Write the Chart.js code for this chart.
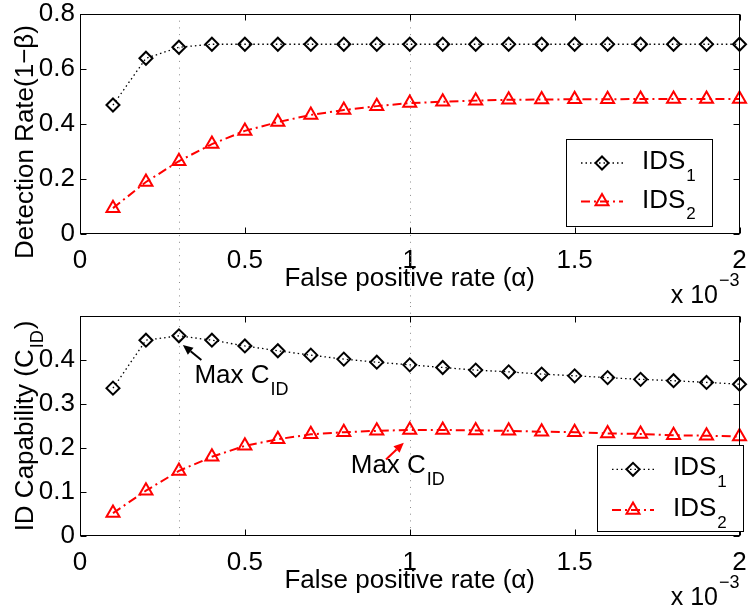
<!DOCTYPE html>
<html>
<head>
<meta charset="utf-8">
<script src="https://cdn.jsdelivr.net/npm/chart.js@4/dist/chart.umd.min.js"></script>
<style>
  html, body { margin: 0; padding: 0; background: #fff; }
  #wrap { position: relative; width: 749px; height: 612px; background: #fff; }
  .pane { position: absolute; left: 0; width: 749px; height: 306px; }
</style>
</head>
<body>
<div id="wrap">
  <div class="pane" style="top:0"><canvas id="c1" width="749" height="306"></canvas></div>
  <div class="pane" style="top:306px"><canvas id="c2" width="749" height="306"></canvas></div>
</div>
<script>
const FONT = '"Liberation Sans", Arial, Helvetica, sans-serif';

// ---- data ----
const xValues = [0.1, 0.2, 0.3, 0.4, 0.5, 0.6, 0.7, 0.8, 0.9, 1.0,
                 1.1, 1.2, 1.3, 1.4, 1.5, 1.6, 1.7, 1.8, 1.9, 2.0];
const xTicks = [0, 0.5, 1, 1.5, 2];
const detTicks = [0, 0.2, 0.4, 0.6, 0.8];
const capTicks = [0, 0.1, 0.2, 0.3, 0.4];
const refLinesX = [0.3, 1.0];

const detIDS1 = [0.469, 0.639, 0.679, 0.690, 0.690, 0.690, 0.690, 0.690, 0.690, 0.690,
                 0.690, 0.690, 0.690, 0.690, 0.690, 0.690, 0.690, 0.690, 0.690, 0.690];
const detIDS2 = [0.094, 0.189, 0.265, 0.327, 0.375, 0.407, 0.433, 0.451, 0.465, 0.476,
                 0.481, 0.485, 0.488, 0.489, 0.490, 0.490, 0.491, 0.491, 0.491, 0.491];
const capIDS1 = [0.336, 0.445, 0.455, 0.445, 0.432, 0.421, 0.411, 0.402, 0.395, 0.389,
                 0.383, 0.377, 0.373, 0.368, 0.364, 0.360, 0.356, 0.353, 0.349, 0.345];
const capIDS2 = [0.052, 0.103, 0.148, 0.180, 0.205, 0.220, 0.231, 0.236, 0.239, 0.241,
                 0.241, 0.240, 0.239, 0.237, 0.236, 0.233, 0.232, 0.229, 0.228, 0.226];

const seriesNames = ['IDS', 'IDS'];
const seriesSubs = ['1', '2'];

function pts(ys) { return xValues.map((x, i) => ({ x: x, y: ys[i] })); }

function makeDatasets(y1, y2) {
  return [
    { label: 'IDS1', data: pts(y1), borderColor: '#000', borderWidth: 1.3, borderDash: [1.5, 3],
      pointStyle: 'rectRot', pointRadius: 6.5, pointBorderWidth: 2, pointBorderColor: '#000',
      pointBackgroundColor: 'rgba(0,0,0,0)', fill: false, tension: 0, clip: false },
    { label: 'IDS2', data: pts(y2), borderColor: '#ff0000', borderWidth: 2, borderDash: [9, 4, 2, 4],
      pointStyle: 'triangle', pointRadius: 7.5, pointBorderWidth: 2, pointBorderColor: '#ff0000',
      pointBackgroundColor: 'rgba(0,0,0,0)', fill: false, tension: 0, clip: false }
  ];
}

function drawParts(ctx, x, y, parts, color) {
  ctx.fillStyle = color;
  ctx.textAlign = 'left';
  ctx.textBaseline = 'alphabetic';
  let cx = x;
  for (const p of parts) {
    ctx.font = p.size + 'px ' + FONT;
    ctx.fillText(p.t, cx, y + (p.dy || 0));
    cx += ctx.measureText(p.t).width + (p.gap || 0);
  }
  return cx;
}
function partsWidth(ctx, parts) {
  let w = 0;
  for (const p of parts) { ctx.font = p.size + 'px ' + FONT; w += ctx.measureText(p.t).width + (p.gap || 0); }
  return w;
}

const matlabPlugin = {
  id: 'matlab',
  beforeDatasetsDraw(chart, args, opts) {
    const ctx = chart.ctx, xs = chart.scales.x, a = chart.chartArea;
    ctx.save();
    ctx.strokeStyle = '#8c8c8c';
    ctx.lineWidth = 1;
    ctx.setLineDash([1, 5.7]);
    for (const v of refLinesX) {
      const px = Math.round(xs.getPixelForValue(v)) + 0.5;
      ctx.beginPath();
      ctx.moveTo(px, opts.refTop === 'area' ? a.top : 0);
      ctx.lineTo(px, opts.refBottom === 'area' ? a.bottom : chart.height);
      ctx.stroke();
    }
    ctx.restore();
  },
  afterDraw(chart, args, opts) {
    const ctx = chart.ctx, a = chart.chartArea, xs = chart.scales.x, ys = chart.scales.y;
    ctx.save();
    // frame
    ctx.setLineDash([]);
    ctx.strokeStyle = '#000';
    ctx.lineWidth = 1;
    const L = Math.round(a.left) + 0.5, R = Math.round(a.right) - 0.5;
    const T = Math.round(a.top) + 0.5, B = Math.round(a.bottom) - 0.5;
    ctx.strokeRect(L, T, R - L, B - T);
    const tl = 6;
    ctx.beginPath();
    for (const t of xs.ticks) {
      const px = Math.round(xs.getPixelForValue(t.value)) + 0.5;
      ctx.moveTo(px, B); ctx.lineTo(px, B - tl);
      ctx.moveTo(px, T); ctx.lineTo(px, T + tl);
    }
    for (const t of ys.ticks) {
      const py = Math.round(ys.getPixelForValue(t.value)) + 0.5;
      ctx.moveTo(L, py); ctx.lineTo(L + tl, py);
      ctx.moveTo(R, py); ctx.lineTo(R - tl, py);
    }
    ctx.stroke();

    // x title
    ctx.font = '26px ' + FONT;
    ctx.fillStyle = '#000';
    ctx.textAlign = 'center';
    ctx.textBaseline = 'alphabetic';
    ctx.fillText('False positive rate (\u03B1)', (a.left + a.right) / 2, a.bottom + 52);

    // x 10^-3
    ctx.textAlign = 'right';
    ctx.font = '18px ' + FONT;
    const supText = '\u22123';
    const supW = ctx.measureText(supText).width;
    ctx.fillText(supText, a.right, a.bottom + 52);
    ctx.font = '25px ' + FONT;
    ctx.fillText('x 10', a.right - supW - 1, a.bottom + 69);

    // y title (rotated)
    ctx.save();
    const cy = opts.yTitleCenter != null ? opts.yTitleCenter : (a.top + a.bottom) / 2;
    ctx.translate(33, cy);
    ctx.rotate(-Math.PI / 2);
    const w = partsWidth(ctx, opts.yTitle);
    drawParts(ctx, -w / 2, 0, opts.yTitle, '#000');
    ctx.restore();

    // annotations
    for (const an of (opts.annotations || [])) {
      const tx = xs.getPixelForValue(an.tail[0]), ty = ys.getPixelForValue(an.tail[1]);
      const hx = xs.getPixelForValue(an.head[0]), hy = ys.getPixelForValue(an.head[1]);
      const ang = Math.atan2(hy - ty, hx - tx);
      const hl = 10, hw = 4.5;
      const bx = hx - Math.cos(ang) * hl, by = hy - Math.sin(ang) * hl;
      ctx.strokeStyle = an.arrowColor; ctx.fillStyle = an.arrowColor; ctx.lineWidth = 2;
      ctx.beginPath(); ctx.moveTo(tx, ty); ctx.lineTo(bx, by); ctx.stroke();
      ctx.beginPath();
      ctx.moveTo(hx, hy);
      ctx.lineTo(bx + Math.sin(ang) * hw, by - Math.cos(ang) * hw);
      ctx.lineTo(bx - Math.sin(ang) * hw, by + Math.cos(ang) * hw);
      ctx.closePath(); ctx.fill();
      drawParts(ctx, xs.getPixelForValue(an.x), ys.getPixelForValue(an.y),
        [{ t: an.text, size: 26, gap: 1 }, { t: an.sub, size: 18, dy: 12 }], '#000');
    }

    // legend
    const lg = opts.legend;
    if (lg) {
      ctx.fillStyle = '#fff';
      ctx.fillRect(lg.left, lg.top, lg.width, lg.height);
      ctx.strokeStyle = '#000'; ctx.lineWidth = 1;
      ctx.strokeRect(Math.round(lg.left) + 0.5, Math.round(lg.top) + 0.5, lg.width, lg.height);
      chart.data.datasets.forEach((ds, i) => {
        const ry = lg.top + lg.rows[i];
        ctx.save();
        ctx.strokeStyle = ds.borderColor; ctx.lineWidth = ds.borderWidth;
        ctx.setLineDash(ds.borderDash || []);
        ctx.beginPath(); ctx.moveTo(lg.left + 15, ry); ctx.lineTo(lg.left + 57, ry); ctx.stroke();
        ctx.setLineDash([]);
        ctx.strokeStyle = ds.pointBorderColor; ctx.fillStyle = ds.pointBackgroundColor;
        ctx.lineWidth = ds.pointBorderWidth;
        Chart.helpers.drawPoint(ctx, { pointStyle: ds.pointStyle, radius: ds.pointRadius, rotation: 0,
          borderWidth: ds.pointBorderWidth }, lg.left + 36, ry);
        ctx.restore();
        drawParts(ctx, lg.left + 76, ry + 6,
          [{ t: seriesNames[i], size: 26, gap: 1 }, { t: seriesSubs[i], size: 17, dy: 11.5 }], '#000');
      });
    }
    ctx.restore();
  }
};

function makeChart(id, y1, y2, yMax, yTicks, xAxisH, padTop, pluginOpts) {
  return new Chart(document.getElementById(id), {
    type: 'line',
    data: { datasets: makeDatasets(y1, y2) },
    options: {
      responsive: false,
      animation: false,
      devicePixelRatio: 1,
      layout: { padding: { top: padTop, right: 7, left: 0, bottom: 0 } },
      plugins: { legend: { display: false }, tooltip: { enabled: false }, matlab: pluginOpts },
      scales: {
        x: {
          type: 'linear', min: 0, max: 2,
          afterBuildTicks: s => { s.ticks = xTicks.map(v => ({ value: v })); },
          afterFit: s => { s.height = xAxisH; s.paddingLeft = 0; s.paddingRight = 0; },
          grid: { display: false, drawTicks: false }, border: { display: false },
          ticks: { color: '#000', font: { family: FONT, size: 26 }, padding: 11, maxRotation: 0,
                   autoSkip: false, callback: v => String(v) }
        },
        y: {
          type: 'linear', min: 0, max: yMax,
          afterBuildTicks: s => { s.ticks = yTicks.map(v => ({ value: v })); },
          afterFit: s => { s.width = 80; s.paddingTop = 0; s.paddingBottom = 0; },
          grid: { display: false, drawTicks: false }, border: { display: false },
          ticks: { color: '#000', font: { family: FONT, size: 26, lineHeight: 1 }, padding: 5,
                   autoSkip: false, callback: v => String(v) }
        }
      }
    },
    plugins: [matlabPlugin]
  });
}

makeChart('c1', detIDS1, detIDS2, 0.8, detTicks, 72, 14, {
  refTop: 'area', refBottom: 'canvas',
  yTitle: [{ t: 'Detection Rate(1\u2212\u03B2)', size: 26 }],
  yTitleCenter: 142,
  legend: { left: 566, top: 139, width: 146, height: 87, rows: [24, 62.5] }
});

makeChart('c2', capIDS1, capIDS2, 0.5, capTicks, 76, 10, {
  refTop: 'canvas', refBottom: 'area',
  yTitle: [{ t: 'ID Capability (C', size: 26, gap: 1 }, { t: 'ID', size: 18, dy: 10, gap: 1 }, { t: ')', size: 26 }],
  legend: { left: 597, top: 139, width: 146, height: 86, rows: [24.3, 65] },
  annotations: [
    { text: 'Max C', sub: 'ID', x: 0.347, y: 0.347, arrowColor: '#000', tail: [0.368, 0.40], head: [0.312, 0.434] },
    { text: 'Max C', sub: 'ID', x: 0.821, y: 0.1425, arrowColor: '#ff0000', tail: [0.928, 0.174], head: [0.982, 0.212] }
  ]
});
</script>
</body>
</html>
